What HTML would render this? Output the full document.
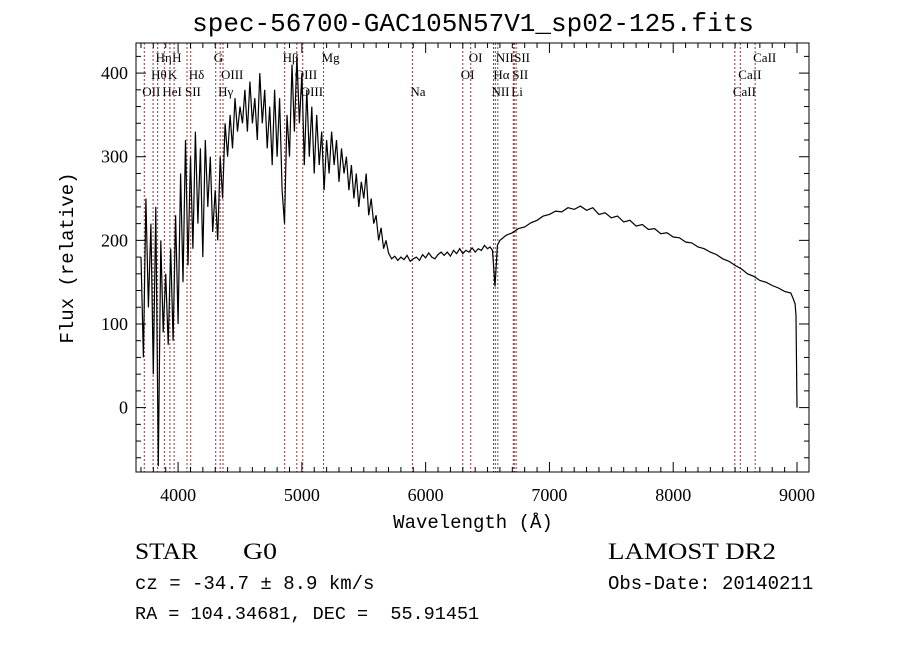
<!DOCTYPE html>
<html><head><meta charset="utf-8">
<style>
html,body{margin:0;padding:0;background:#fff;width:900px;height:649px;overflow:hidden}
svg{display:block}
text{font-family:"Liberation Serif",serif;fill:#000;white-space:pre}
.mono{font-family:"Liberation Mono",monospace}
</style></head>
<body>
<svg id="chart" width="900" height="649" viewBox="0 0 900 649">
<text x="473" y="31" text-anchor="middle" font-size="26" class="mono">spec-56700-GAC105N57V1_sp02-125.fits</text>
<g id="lines"></g>
<g id="series"></g>
<rect x="136" y="43" width="673" height="429" fill="none" stroke="#000" stroke-width="1"/>
<g id="axes"></g>
<text x="473" y="528" text-anchor="middle" font-size="19" class="mono">Wavelength (Å)</text>
<text transform="translate(73,258) rotate(-90)" text-anchor="middle" font-size="19" class="mono">Flux (relative)</text>
<text x="135" y="559" font-size="23" textLength="63" lengthAdjust="spacingAndGlyphs">STAR</text>
<text x="243" y="559" font-size="23" textLength="34" lengthAdjust="spacingAndGlyphs">G0</text>
<text x="608" y="559" font-size="23" textLength="168" lengthAdjust="spacingAndGlyphs">LAMOST DR2</text>
<text x="135" y="589" font-size="19" class="mono">cz = -34.7 ± 8.9 km/s</text>
<text x="608" y="589" font-size="19" class="mono">Obs-Date: 20140211</text>
<text x="135" y="619" font-size="18.5" class="mono" xml:space="preserve">RA = 104.34681, DEC =  55.91451</text>
</svg>
<script>
const waves = [3700,3720,3740,3760,3780,3800,3820,3840,3860,3880,3900,3920,3940,3960,3980,4000,4020,4040,4060,4080,4100,4120,4140,4160,4180,4200,4220,4240,4260,4280,4300,4320,4340,4360,4380,4400,4420,4440,4460,4480,4500,4520,4540,4560,4580,4600,4620,4640,4660,4680,4700,4720,4740,4760,4780,4800,4820,4840,4860,4880,4900,4920,4940,4960,4980,5000,5020,5040,5060,5080,5100,5120,5140,5160,5180,5200,5220,5240,5260,5280,5300,5320,5340,5360,5380,5400,5420,5440,5460,5480,5500,5520,5540,5560,5580,5600,5620,5640,5660,5680,5700,5725,5750,5775,5800,5825,5850,5875,5900,5925,5950,5975,6000,6025,6050,6075,6100,6125,6150,6175,6200,6225,6250,6275,6300,6325,6350,6375,6400,6425,6450,6475,6500,6520,6540,6560,6580,6600,6650,6700,6750,6800,6850,6900,6950,7000,7050,7100,7150,7200,7250,7300,7350,7400,7450,7500,7550,7600,7650,7700,7750,7800,7850,7900,7950,8000,8050,8100,8150,8200,8250,8300,8350,8400,8450,8500,8550,8600,8650,8700,8750,8800,8850,8900,8950,8970,8985,8992,9000];
const flux = [180,60,250,120,220,40,240,-70,200,90,160,75,190,80,230,100,280,150,320,170,300,190,330,220,310,180,320,240,300,210,260,200,300,250,340,300,350,310,370,330,360,340,380,330,390,340,370,320,400,340,380,310,360,290,380,300,370,260,220,350,300,410,330,420,340,400,290,380,300,360,280,350,290,330,260,320,280,330,290,320,270,310,280,300,260,290,250,280,240,270,250,280,230,250,220,230,200,215,190,200,185,178,181,176,180,177,182,175,178,180,176,183,179,185,180,178,183,186,182,186,181,188,184,190,184,188,186,191,186,190,188,194,190,192,188,145,194,200,206,209,214,216,221,224,229,231,235,234,239,237,241,236,239,231,233,227,229,222,224,217,219,213,214,208,209,204,203,198,197,192,190,186,183,178,175,170,166,160,157,152,150,146,143,139,137,130,124,110,0];
const xTicks = [4000,5000,6000,7000,8000,9000];
const yTicks = [0,100,200,300,400];
const lineWaves = [3727,3798,3835,3889,3934,3968,4072,4102,4304,4340,4363,4861,4959,5007,5175,5893,6300,6364,6548,6563,6583,6708,6716,6731,8498,8542,8662];
const lineNames = ["OII","Hθ","Hη","HeI","K","H","SII","Hδ","G","Hγ","OIII","Hβ","OIII","OIII","Mg","Na","OI","OI","NII","Hα","NII","Li","SII","SII","CaII","CaII","CaII"];
const lineRows = [2,1,0,2,1,0,2,1,0,2,1,0,1,2,0,2,1,0,2,1,0,2,1,0,2,1,0];

const X0=136,X1=809,Y0=43,Y1=472,WMIN=3660,WMAX=9097,FMIN=-77,FMAX=436;
const sx=w=>X0+(w-WMIN)/(WMAX-WMIN)*(X1-X0);
const sy=f=>Y1-(f-FMIN)/(FMAX-FMIN)*(Y1-Y0);
const NS="http://www.w3.org/2000/svg";
function mk(tag,attrs,parent){const e=document.createElementNS(NS,tag);for(const k in attrs)e.setAttribute(k,attrs[k]);parent.appendChild(e);return e;}

const gl=document.getElementById('lines');
lineWaves.forEach((w,i)=>{
  const l=mk('line',{x1:sx(w),x2:sx(w),y1:Y0,y2:Y1,stroke:'#8b3a3a','stroke-width':1,'stroke-dasharray':'2,2'},gl);
  
  
  const t=mk('text',{x:sx(w)-2,y:62+lineRows[i]*17,'font-size':13},gl);
  t.textContent=lineNames[i];
  
  
});

const gs=document.getElementById('series');
const n=Math.min(waves.length,flux.length);
const pts=waves.slice(0,n).map((w,i)=>sx(w).toFixed(1)+','+Math.min(Math.max(sy(flux[i]),Y0),Y1).toFixed(1)).join(' ');
const pl=mk('polyline',{points:pts,fill:'none',stroke:'#000','stroke-width':1.2},gs);



const ga=document.getElementById('axes');
for(let w=3700;w<=9000;w+=100){
  const major=w%1000===0, len=major?10:5, x=sx(w);
  mk('line',{x1:x,x2:x,y1:Y1,y2:Y1-len,stroke:'#000'},ga);
  mk('line',{x1:x,x2:x,y1:Y0,y2:Y0+len,stroke:'#000'},ga);
}
xTicks.forEach(w=>{
  const t=mk('text',{x:sx(w),y:501,'text-anchor':'middle','font-size':18},ga);
  t.textContent=w;
  
  
});
for(let f=-60;f<=420;f+=20){
  const major=f%100===0, len=major?10:5, y=sy(f);
  mk('line',{x1:X0,x2:X0+len,y1:y,y2:y,stroke:'#000'},ga);
  mk('line',{x1:X1,x2:X1-len,y1:y,y2:y,stroke:'#000'},ga);
}
yTicks.forEach(f=>{
  const t=mk('text',{x:128,y:sy(f)+6,'text-anchor':'end','font-size':18},ga);
  t.textContent=f;
  
  
});
</script>
</body></html>
